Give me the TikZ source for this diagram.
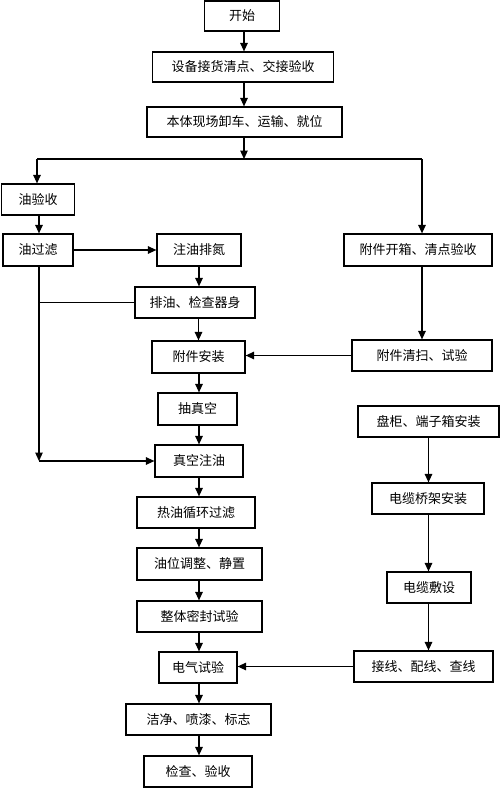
\documentclass[tikz,border=0pt]{standalone}
\usepackage{fontspec}
\newfontfamily\cjk{Noto Sans CJK SC}
\usetikzlibrary{arrows.meta}
\tikzset{
  box/.style={draw, line width=1.2pt, inner sep=0pt, align=center},
  arr/.style={->, line width=1.2pt}
}
\begin{document}
\begin{tikzpicture}[x=1pt, y=-1pt, font=\cjk\fontsize{13}{15}\selectfont, line join=miter, >={Triangle[length=8.5pt,width=7.5pt]}]
\useasboundingbox (0,0) rectangle (500,789);
% 上部流程
\node[box, minimum width=75, minimum height=30] (start) at (242,16) {开始};
\node[box, minimum width=181, minimum height=30] (recv) at (243,67) {设备接货清点、交接验收};
\node[box, minimum width=195, minimum height=30] (unload) at (244.5,122) {本体现场卸车、运输、就位};
% 分支点
\coordinate (split) at (244,159);
\coordinate (jl) at (37,159);
\coordinate (jr) at (422,159);
% 左侧：油处理
\node[box, minimum width=73, minimum height=31] (oilchk) at (38,199.5) {油验收};
\node[box, minimum width=70, minimum height=32] (oilflt) at (38,250) {油过滤};
\node[box, minimum width=84, minimum height=32] (nfill) at (199,250) {注油排氮};
\node[box, minimum width=120, minimum height=31] (drain) at (195,302.5) {排油、检查器身};
% 中间主线
\node[box, minimum width=93, minimum height=32] (attinst) at (198.5,357) {附件安装};
\node[box, minimum width=79, minimum height=32] (vac) at (197.5,409) {抽真空};
\node[box, minimum width=88, minimum height=32] (vfill) at (199,461) {真空注油};
\node[box, minimum width=118, minimum height=31] (hot) at (196,512.5) {热油循环过滤};
\node[box, minimum width=125, minimum height=32] (level) at (199.5,564) {油位调整、静置};
\node[box, minimum width=125, minimum height=31] (seal) at (199.5,616.5) {整体密封试验};
\node[box, minimum width=78, minimum height=31] (elec) at (198,667.5) {电气试验};
\node[box, minimum width=145, minimum height=31] (paint) at (198.5,719.5) {洁净、喷漆、标志};
\node[box, minimum width=108, minimum height=31] (final) at (198,771.5) {检查、验收};
% 右侧：附件
\node[box, minimum width=148, minimum height=32] (attopen) at (418,250) {附件开箱、清点验收};
\node[box, minimum width=140, minimum height=31] (attclean) at (422,355.5) {附件清扫、试验};
% 右侧：电缆
\node[box, minimum width=141, minimum height=31] (panel) at (428.5,421.5) {盘柜、端子箱安装};
\node[box, minimum width=112, minimum height=31] (tray) at (428,498.5) {电缆桥架安装};
\node[box, minimum width=84, minimum height=31] (cable) at (429,587.5) {电缆敷设};
\node[box, minimum width=139, minimum height=31] (wire) at (423.5,666.5) {接线、配线、查线};
\coordinate (cbend) at (39,461);
\coordinate (dj) at (39,302.5);

% 连线
\draw[arr] (start.south -| split) -- (recv.north -| split);
\draw[arr] (recv.south -| split) -- (unload.north -| split);
\draw[arr] (unload.south -| split) -- (split);
\draw[line width=1.2pt] (jl) -- (jr);
\draw[arr] (jl) -- (oilchk.north -| jl);
\draw[arr] (jr) -- (attopen.north -| jr);
\draw[arr] (oilchk.south -| cbend) -- (oilflt.north -| cbend);
\draw[arr] (oilflt) -- (nfill);
\draw[arr] (nfill) -- (drain.north -| nfill);
\draw[line width=1.2pt] (drain) -- (dj);
\draw[arr] (oilflt.south -| cbend) -- (cbend);
\draw[arr] (cbend) -- (vfill);
\draw[arr] (drain.south -| attinst) -- (attinst);
\draw[arr] (attopen.south -| jr) -- (attclean.north -| jr);
\draw[arr] (attclean.west) -- (attclean.west -| attinst.east);
\draw[arr] (attinst.south -| vfill) -- (vac.north -| vfill);
\draw[arr] (vac.south -| vfill) -- (vfill);
\draw[arr] (vfill) -- (hot.north -| vfill);
\draw[arr] (hot.south -| vfill) -- (level.north -| vfill);
\draw[arr] (level.south -| vfill) -- (seal.north -| vfill);
\draw[arr] (seal.south -| vfill) -- (elec.north -| vfill);
\draw[arr] (elec.south -| vfill) -- (paint.north -| vfill);
\draw[arr] (paint.south -| vfill) -- (final.north -| vfill);
\draw[arr] (panel) -- (tray.north -| panel);
\draw[arr] (tray.south -| panel) -- (cable.north -| panel);
\draw[arr] (cable.south -| panel) -- (wire.north -| panel);
\draw[arr] (wire.west) -- (wire.west -| elec.east);
\end{tikzpicture}
\end{document}
